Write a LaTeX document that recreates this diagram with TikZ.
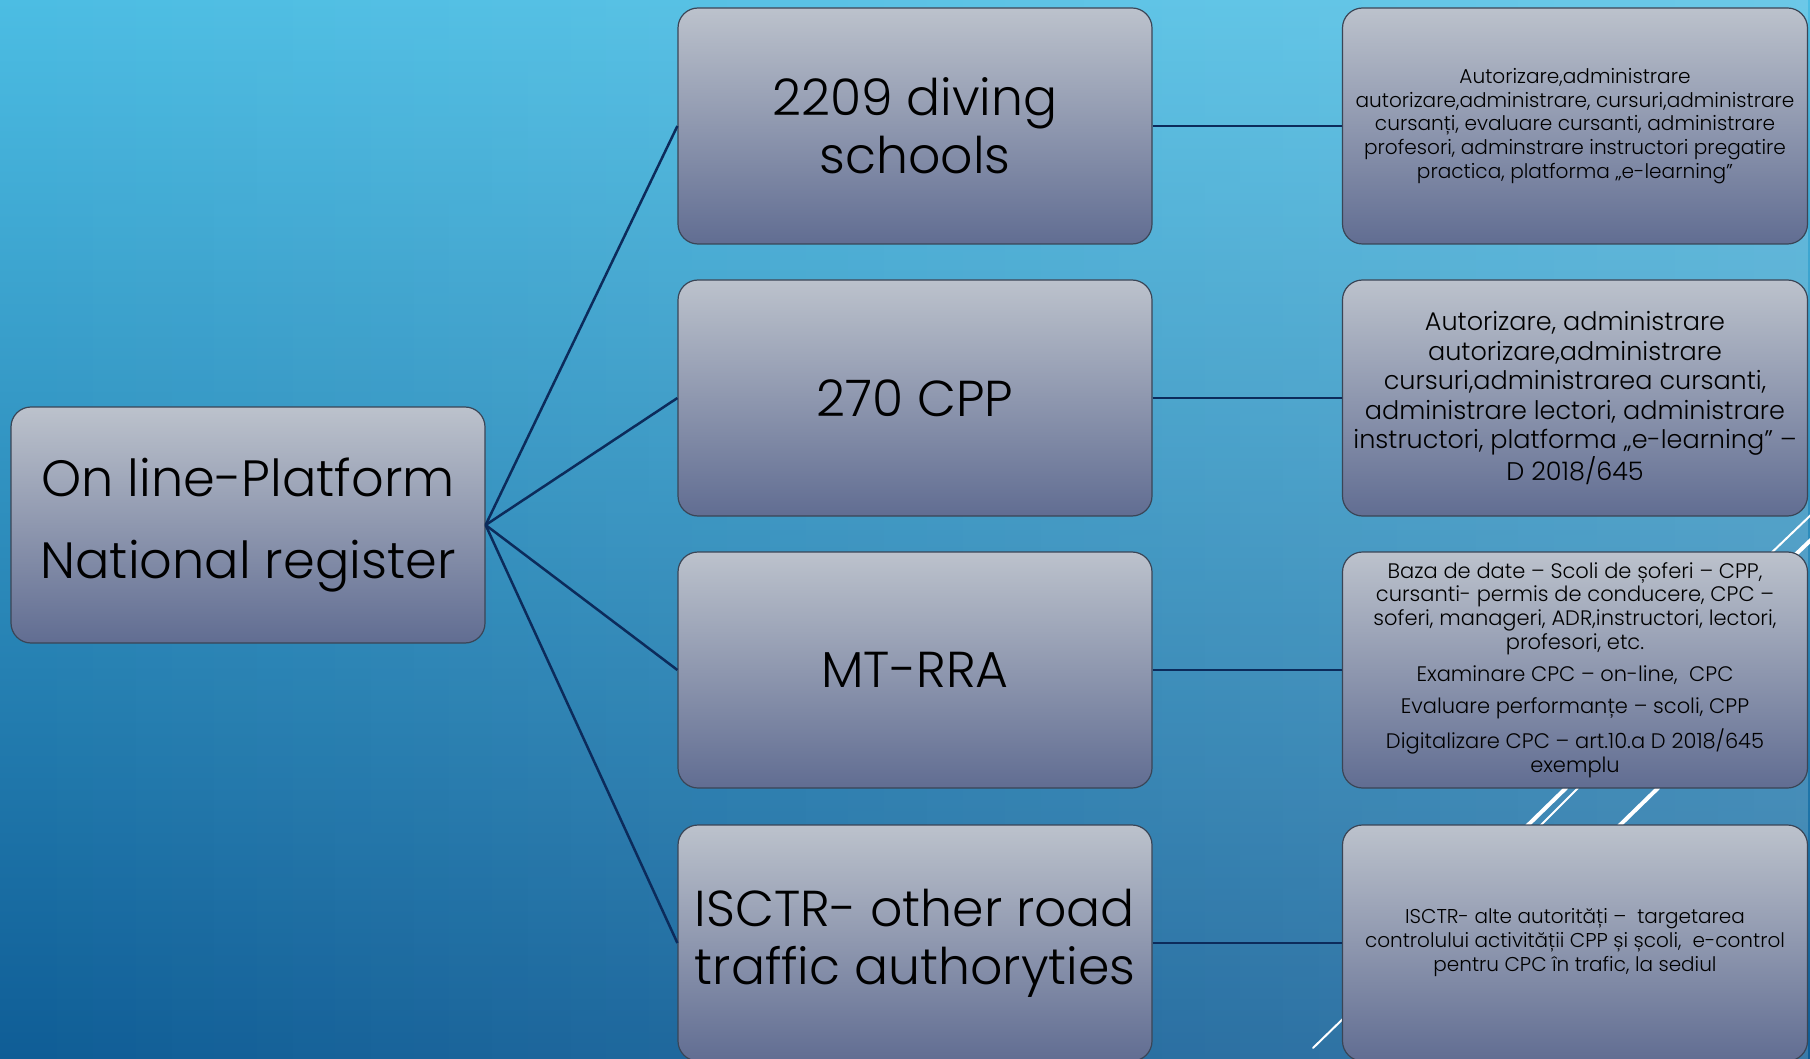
\documentclass[tikz,border=0pt]{standalone}
\usepackage{fontspec}
\setmainfont{Poppins}[UprightFont=* Light]
\usepackage{xcolor}
\usetikzlibrary{fadings}

\definecolor{bgtop}{HTML}{4CBDE3}
\definecolor{bgbot}{HTML}{0F5D96}
\definecolor{boxtop}{HTML}{BCC2CC}
\definecolor{boxbot}{HTML}{616D92}
\definecolor{boxline}{HTML}{3A4556}
\definecolor{linkcol}{HTML}{0C2B5B}

\tikzfading[name=fadelight, left color=transparent!100, right color=transparent!0]

\tikzset{
	panel/.style={draw=boxline, line width=1.2pt, rounded corners=20pt,
		top color=boxtop, bottom color=boxbot, text=black, align=center,
		minimum width=474pt, minimum height=236pt, inner sep=0pt},
	info/.style={panel, minimum width=465pt},
	wire/.style={draw=linkcol, line width=2.5pt},
	deco/.style={white, line cap=round}
}

\begin{document}
\begin{tikzpicture}[x=1pt,y=-1pt]
	\useasboundingbox (0,0) rectangle (1810,1059);
	\shade[top color=bgtop, bottom color=bgbot] (0,0) rectangle (1810,1059);
	\fill[white, opacity=.18, path fading=fadelight] (0,0) rectangle (1810,1059);
	
	% stripes behind the boxes
	\draw[deco, line width=2pt] (1766,558) -- (1814,512);
	\draw[deco, line width=4pt] (1792,558) -- (1814,537);
	\draw[deco, line width=4pt] (1527,826) -- (1566,788);
	\draw[deco, line width=2pt] (1540,826) -- (1578,788);
	\draw[deco, line width=4pt] (1619,826) -- (1658,788);
	\draw[deco, line width=2pt] (1313,1048) -- (1350,1012);
	
	\node[panel, font=\fontsize{51}{82}\selectfont] (P) at (248,525) {On line-Platform\\National register};
	
	\node[panel, font=\fontsize{50.5}{58}\selectfont] (S) at (915,126) {2209 diving\\schools};
	\node[panel, font=\fontsize{50.5}{58}\selectfont] (C) at (915,398) {270 CPP};
	\node[panel, font=\fontsize{50.5}{58}\selectfont] (M) at (915,670) {MT-RRA};
	\node[panel, font=\fontsize{50.5}{58}\selectfont] (I) at (915,943) {ISCTR- other road\\traffic authoryties};
	
	\node[info, font=\fontsize{20.1}{23.7}\selectfont] (Sd) at (1575,126) {Autorizare,administrare\\autorizare,administrare, cursuri,administrare\\cursanți, evaluare cursanti, administrare\\profesori, adminstrare instructori pregatire\\practica, platforma „e-learning”};
	\node[info, font=\fontsize{25.5}{29.5}\selectfont] (Cd) at (1575,398) {Autorizare, administrare\\autorizare,administrare\\cursuri,administrarea cursanti,\\administrare lectori, administrare\\instructori, platforma „e-learning” –\\D 2018/645};
	\node[info, font=\fontsize{21}{23.7}\selectfont] (Md) at (1575,670) {Baza de date – Scoli de șoferi – CPP,\\cursanti- permis de conducere, CPC –\\soferi, manageri, ADR,instructori, lectori,\\profesori, etc.\\[8.7pt]Examinare CPC – on-line,~ CPC\\[8.7pt]Evaluare performanțe – scoli, CPP\\[8.7pt]Digitalizare CPC – art.10.a D 2018/645\\exemplu};
	\node[info, font=\fontsize{20}{24}\selectfont] (Id) at (1575,943) {ISCTR- alte autorități –~ targetarea\\controlului activității CPP și școli,~ e-control\\pentru CPC în trafic, la sediul};
	
	\draw[wire] (P.east) -- (S.west);
	\draw[wire] (P.east) -- (C.west);
	\draw[wire] (P.east) -- (M.west);
	\draw[wire] (P.east) -- (I.west);
	
	\draw[wire] (S.east) -- (Sd.west);
	\draw[wire] (C.east) -- (Cd.west);
	\draw[wire] (M.east) -- (Md.west);
	\draw[wire] (I.east) -- (Id.west);
\end{tikzpicture}
\end{document}
